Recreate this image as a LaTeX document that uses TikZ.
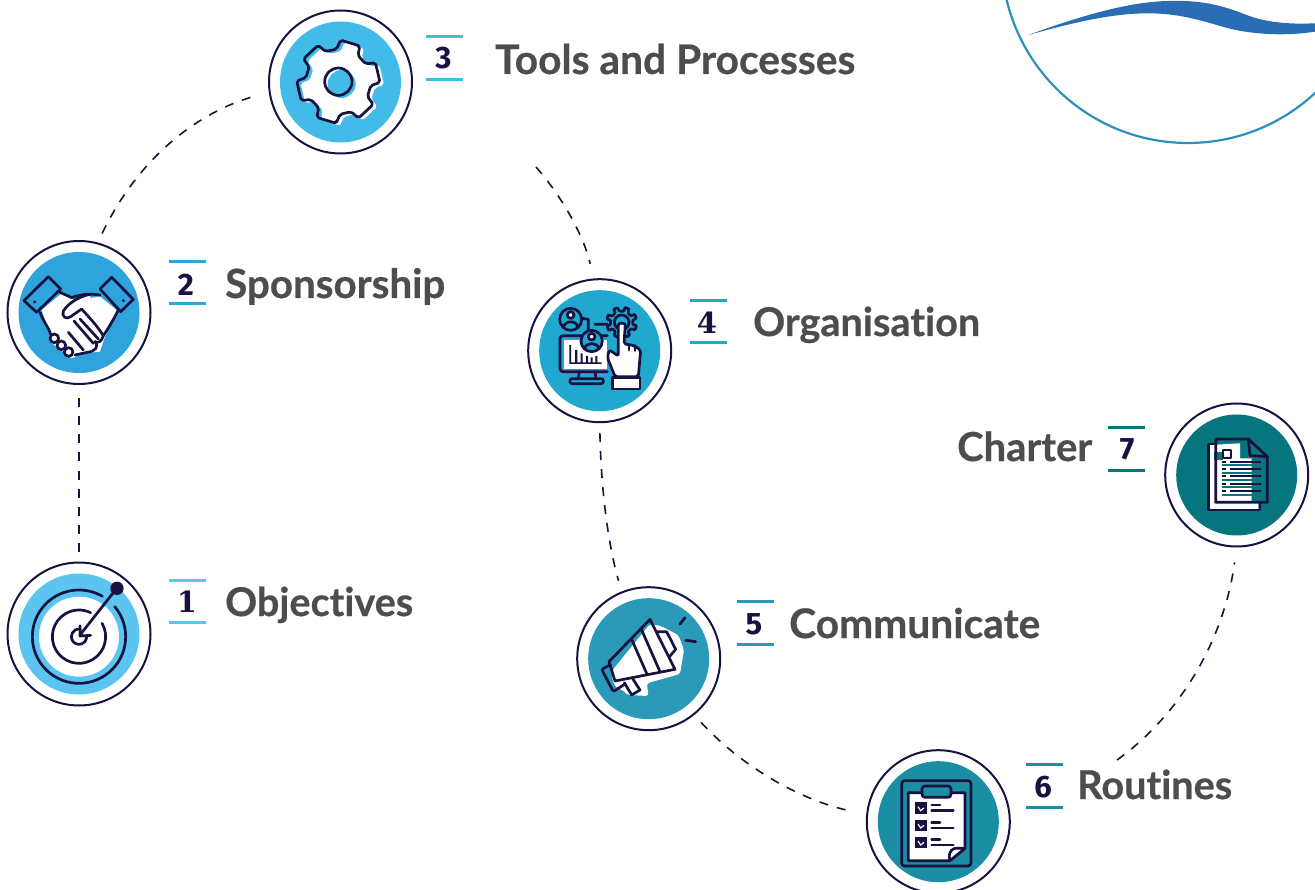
\documentclass[tikz,border=0pt]{standalone}
\usepackage{fontspec}
\setmainfont{Lato}[Ligatures=NoCommon,BoldFeatures={FakeBold=0.6}]
\newfontfamily\numsans{Fira Sans}
\newfontfamily\numslab{DejaVu Serif}
\definecolor{navy}{HTML}{17123F}
\definecolor{txt}{HTML}{4D4D4D}
\definecolor{cA}{HTML}{5BC4F1}
\definecolor{cB}{HTML}{2EA3DC}
\definecolor{cC}{HTML}{43BBE8}
\definecolor{cD}{HTML}{20A8CE}
\definecolor{cE}{HTML}{2A9AB8}
\definecolor{cF}{HTML}{1B8EA3}
\definecolor{cG}{HTML}{06757E}
\definecolor{arcc}{HTML}{2E8FBF}
\definecolor{swoosh}{HTML}{2A6DB5}
\tikzset{
 ring/.style={circle,draw=navy,line width=2pt,fill=white,minimum size=143pt,inner sep=0pt},
 disc/.style={circle,fill=#1,minimum size=121pt,inner sep=0pt},
 dashline/.style={draw=navy,line width=1.6pt,dash pattern=on 9pt off 9pt},
 bar/.style={line width=3pt},
 lab/.style={anchor=base west,inner sep=0pt,text=txt,font=\fontsize{37}{37}\selectfont\bfseries},
 num/.style={inner sep=0pt,text=navy,font=\fontsize{31}{31}\selectfont\bfseries},
 numslabbed/.style={num,font=\fontsize{29}{29}\selectfont\bfseries},
 ic/.style={draw=navy,line width=2.7pt,line join=round,line cap=round},
 icw/.style={ic,fill=white},
}
\newcommand{\bars}[4]{\draw[bar,#4] (#1,#2) -- ++(37,0) (#1,#3) -- ++(37,0);}
\begin{document}
\begin{tikzpicture}[x=1pt,y=-1pt]
\clip (0,0) rectangle (1315,890);
% top-right decoration
\draw[arcc,line width=2.2pt] (1188,-43.4) circle[radius=186.4];
\begin{scope}[shift={(995,0)},scale=1/3]
\fill[swoosh] (100,105) .. controls (250,50) and (400,5) .. (520,3) .. controls (620,0) and (680,15) .. (760,47) .. controls (830,72) and (900,72) .. (960,70) -- (960,95) .. controls (880,108) and (780,105) .. (700,85) .. controls (620,62) and (560,42) .. (470,40) .. controls (350,38) and (220,72) .. (100,105) -- cycle;
\end{scope}
% rings
\node[ring] (c1) at (79,634) {};
\node[ring] (c2) at (79,312.5) {};
\node[ring] (c3) at (340.5,82) {};
\node[ring] (c4) at (599.7,350.7) {};
\node[ring] (c5) at (648.7,658.7) {};
\node[ring] (c6) at (938.3,821.7) {};
\node[ring] (c7) at (1236.7,475) {};
\coordinate (free3) at (536,167);
\coordinate (free6) at (1117,760);
% connectors
\draw[dashline,shorten >=11pt,shorten <=10pt] (c1.north) -- (c2.south);
\draw[dashline,shorten >=16pt,shorten <=10pt] (c2.75) .. controls (135,165) and (190,115) .. (c3.188);
\draw[dashline,shorten >=15pt] (free3) .. controls (565,200) and (585,240) .. (c4.95);
\draw[dashline,shorten <=10pt,shorten >=11pt] (c4.south) .. controls (601,485) and (607,540) .. (c5.112);
\draw[dashline,shorten <=10pt,shorten >=13pt] (c5.-51) .. controls (745,770) and (805,802) .. (c6.174);
\draw[dashline,shorten >=15pt] (free6) .. controls (1180,715) and (1224,640) .. (c7.-90);
% discs
\node[disc=cA] (d1) at (79,634) {};
\node[disc=cB] (d2) at (79,312.5) {};
\node[disc=cC] (d3) at (340.5,82) {};
\node[disc=cD] (d4) at (599.7,350.7) {};
\node[disc=cE] (d5) at (648.7,658.7) {};
\node[disc=cF] (d6) at (938.3,821.7) {};
\node[disc=cG] (d7) at (1236.7,475) {};
% icon 1 target
\begin{scope}[shift={(0,555)},scale=1/3]
\fill[white] (237,245) circle[radius=120];
\draw[ic] ([shift={(-40:140)}]237,245) arc[start angle=-40,end angle=300,radius=140];
\draw[ic] ([shift={(-30:80)}]237,245) arc[start angle=-30,end angle=296,radius=80];
\draw[ic] ([shift={(0:23)}]237,245) arc[start angle=0,end angle=280,radius=23];
\draw[ic] (350,100) -- (240,240) (240,212) -- (240,243) -- (272,241);
\fill[navy] (351,100) circle[radius=20];
\end{scope}
% icon 2 handshake
\begin{scope}[shift={(0,235)},scale=1/3]
\fill[white] (125,225) -- (185,175) -- (225,195) -- (300,185) -- (350,225) -- (335,265) -- (315,305) -- (300,350) -- (250,355) -- (215,370) -- (150,320) -- (150,300) -- cycle;
\draw[ic,fill=cB] (72,197) -- (145,125) -- (182,162) -- (110,232) -- cycle;
\draw[ic,fill=cB] (300,162) -- (335,127) -- (400,193) -- (362,230) -- cycle;
\fill[navy] (104,201) circle[radius=5] (370,197) circle[radius=5];
\draw[ic] (120,232) .. controls (130,260) and (145,275) .. (152,298);
\draw[ic] (180,172) -- (215,188) .. controls (240,178) and (270,175) .. (300,180);
\draw[ic,fill=white] (270,178) .. controls (235,185) and (205,205) .. (190,228) .. controls (183,245) and (200,255) .. (212,245) -- (245,222) .. controls (265,245) and (290,270) .. (310,302) .. controls (305,320) and (295,325) .. (285,320);
\draw[ic] (355,225) .. controls (340,255) and (325,280) .. (310,302);
\draw[ic] (222,258) -- (280,325) (240,252) -- (295,312) (205,292) -- (250,345);
\draw[ic] (285,320) .. controls (298,335) and (285,350) .. (262,352) -- (225,360);
\draw[icw] (163,310) circle[radius=13];
\draw[icw] (184,331) circle[radius=13];
\draw[icw] (206,351) circle[radius=13];
\end{scope}
% icon 3 gear
\begin{scope}[shift={(260,0)},scale=1/3]
\fill[white,rounded corners=2pt] ([shift={(247,252)}]93:125) \foreach \a in {107,47,-13,-73,-133,167} { -- ([shift={(247,252)}]\a-14:125) -- ([shift={(247,252)}]\a-20:98) -- ([shift={(247,252)}]\a-40:98) -- ([shift={(247,252)}]\a-46:125)} -- cycle;
\draw[ic,rounded corners=2pt] ([shift={(235,245)}]93:125) \foreach \a in {107,47,-13,-73,-133,167} { -- ([shift={(235,245)}]\a-14:125) -- ([shift={(235,245)}]\a-20:98) -- ([shift={(235,245)}]\a-40:98) -- ([shift={(235,245)}]\a-46:125)} -- cycle;
\fill[cC] (245,252) circle[radius=42];
\draw[ic] (235,245) circle[radius=41];
\end{scope}
% icon 4 monitor
\begin{scope}[shift={(520,270)},scale=1/3]
\fill[white] (132,210) rectangle (262,296);
\draw[ic,rounded corners=3pt] (262,197) -- (120,197) -- (120,305) -- (262,305);
\fill[navy] (148,225) rectangle (153,282) (165,240) rectangle (172,282) (182,250) rectangle (188,282) (198,258) rectangle (204,282) (212,262) rectangle (218,282) (226,258) rectangle (232,282) (148,277) rectangle (245,282);
\draw[ic] (178,305) -- (175,325) (225,305) -- (228,325);
\draw[ic,rounded corners=2pt] (150,326) rectangle (250,341);
\draw[ic] (186,145) -- (205,148) -- (205,178) (225,163) -- (262,163);
\draw[ic,fill=cD] (152,148) circle[radius=33];
\draw[icw] (152,135) circle[radius=10];
\draw[ic] (130,172) .. controls (135,150) and (170,150) .. (174,172);
\draw[ic,fill=cD] (215,213) circle[radius=32];
\draw[icw] (215,200) circle[radius=10];
\draw[ic] (193,237) .. controls (198,215) and (232,215) .. (237,237);
\draw[ic,rounded corners=1pt] ([shift={(305,157)}]12:34) \foreach \a in {0,45,...,315} { -- ([shift={(305,157)}]\a+12:46) -- ([shift={(305,157)}]\a+30:46)  -- ([shift={(305,157)}]\a+33:34) -- ([shift={(305,157)}]\a+57:34)} -- cycle;
\draw[ic,fill=cD] (305,157) circle[radius=22];
\draw[icw,rounded corners=2pt] (295,160) -- (295,258) -- (268,240) -- (262,262) -- (285,320) -- (355,320) -- (362,240) -- (340,226) -- (312,222) -- (316,160) -- cycle;
\draw[ic] (327,224) -- (327,240) (345,226) -- (345,242);
\draw[icw] (277,322) rectangle (360,357);
\end{scope}
% icon 5 megaphone
\begin{scope}[shift={(570,580)},scale=1/3]
\fill[white,rounded corners=3pt] (128,270) -- (240,132) -- (272,138) -- (325,165) -- (342,210) -- (330,282) -- (230,310) -- (236,348) -- (172,345) -- (165,335) -- (135,320) -- (125,290) -- cycle;
\draw[ic] (117,245) -- (240,118) -- (315,268) -- (135,303) -- cycle;
\draw[ic] (185,178) -- (232,285) (215,150) -- (270,275);
\draw[ic] (262,155) -- (290,155) -- (317,208) -- (297,232);
\draw[ic,rounded corners=2pt] (120,255) -- (95,268) -- (130,335) -- (165,312);
\draw[ic] (163,308) -- (185,345) -- (210,330) -- (188,296);
\draw[ic] (330,132) -- (345,113) (347,181) -- (377,185);
\end{scope}
% icon 6 clipboard
\begin{scope}[shift={(860,740)},scale=1/3]
\draw[ic,rounded corners=3pt] (125,122) rectangle (333,378);
\draw[icw] (145,158) -- (315,158) -- (315,325) -- (270,362) -- (145,362) -- cycle;
\draw[ic,fill=cF,rounded corners=3pt] (186,172) -- (186,138) -- (273,138) -- (273,172) -- cycle;
\foreach \y in {0,52,103} {
  \fill[navy] (165,187+\y) rectangle (200,222+\y);
  \draw[white,line width=1.2pt] (174,200+\y) -- (182,212+\y) -- (192,204+\y);
  \draw[ic] (215,195+\y) -- (240,195+\y) (215,212+\y) -- (280,212+\y);
}
\draw[ic,fill=white,rounded corners=1pt] (315,325) -- (285,325) .. controls (270,330) and (265,345) .. (270,362) -- cycle;
\end{scope}
% icon 7 document
\begin{scope}[shift={(1095,395)},scale=1/3]
\fill[white] (345,150) -- (435,145) -- (435,190) -- (470,190) -- (470,320) -- (490,322) -- (490,342) -- (345,342) -- cycle;
\fill[cG] (357,170) rectangle (385,195);
\draw[ic] (362,147) -- (340,147) -- (340,345) -- (495,345) -- (495,322);
\draw[ic] (362,322) -- (362,132) -- (460,132) -- (517,185) -- (517,322) -- cycle;
\draw[ic] (460,132) -- (465,182) -- (517,185);
\draw[ic,line width=2pt,fill=white] (383,165) rectangle (407,188);
\foreach \y in {200,222,244,266,288} {
  \draw[navy,line width=1.8pt] (405,\y) -- (497,\y) (380,\y) -- (392,\y);
  \draw[cG,line width=2pt] (380,\y+11) -- (470,\y+11);
  \fill[navy] (364,\y) circle[radius=3];
}
\end{scope}
% numbers
\bars{426}{36.5}{79.5}{cC}
\bars{169}{262}{304}{cB}
\bars{169}{580}{622}{cA}
\bars{690}{300.5}{342.5}{cD}
\bars{737}{601.5}{644}{cE}
\bars{1026}{764.5}{807}{cF}
\bars{1108}{428}{470}{cG}
\node[numslabbed] (n1) at (187,602) {\numslab 1};
\node[num] (n2) at (186,285) {\numsans 2};
\node[num] (n3) at (443.5,58) {\numsans 3};
\node[numslabbed] (n4) at (707,323) {\numslab 4};
\node[num] (n5) at (754,624) {\numsans 5};
\node[num] (n6) at (1043,787) {\numsans 6};
\node[num] (n7) at (1127,449) {\numsans 7};
% labels
\node[lab] (l1) at (225,616) {\resizebox{188pt}{!}{Objectives}};
\node[lab] (l2) at (225,298) {\resizebox{220pt}{!}{Sponsorship}};
\node[lab] (l3) at (495,74) {\resizebox{360pt}{!}{Tools and Processes}};
\node[lab] (l4) at (753,336) {\resizebox{227pt}{!}{Organisation}};
\node[lab] (l5) at (789,638) {\resizebox{251pt}{!}{Communicate}};
\node[lab] (l6) at (1077,799) {\resizebox{155pt}{!}{Routines}};
\node[lab] (l7) at (957,461) {\resizebox{135pt}{!}{Charter}};
\end{tikzpicture}
\end{document}
